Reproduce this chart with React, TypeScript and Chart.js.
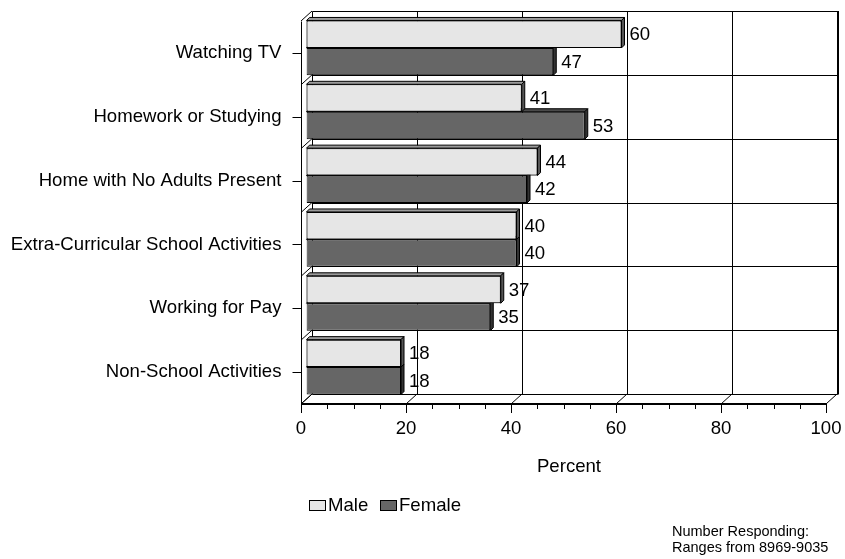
import React, { useEffect, useRef } from "react";
import { Chart, registerables } from "chart.js";

Chart.register(...registerables);

const categories = [
  "Watching TV",
  "Homework or Studying",
  "Home with No Adults Present",
  "Extra-Curricular School Activities",
  "Working for Pay",
  "Non-School Activities",
];
const maleValues = [60, 41, 44, 40, 37, 18];
const femaleValues = [47, 53, 42, 40, 35, 18];
const seriesNames = ["Male", "Female"];
const xTickValues = [0, 20, 40, 60, 80, 100];
const axisTitle = "Percent";
const footnoteLines = ["Number Responding:", "Ranges from 8969-9035"];

const FONT = "'Liberation Sans', Arial, Helvetica, sans-serif";
const FS = 18.6;
const DX = 5.5;
const DY = 5;
const BAR_DEPTH = 3;
const MALE_COLOR = "#e6e6e6";
const FEMALE_COLOR = "#666666";

const snap = (v: number) => Math.round(v) + 0.5;

function line(ctx: CanvasRenderingContext2D, x1: number, y1: number, x2: number, y2: number) {
  ctx.beginPath();
  ctx.moveTo(x1, y1);
  ctx.lineTo(x2, y2);
  ctx.stroke();
}

const framePlugin = {
  id: "frame3d",
  beforeDatasetsDraw(chart: any) {
    const { ctx, chartArea: a, scales } = chart;
    const xs = scales.x;
    const ys = scales.y;
    const X = (v: number) => xs.getPixelForValue(v);
    const top = a.top;
    const bot = a.bottom;
    const n = categories.length;
    const band = (bot - top) / n;
    const x0 = X(0);
    const x1 = X(100);
    ctx.save();
    ctx.lineWidth = 1;
    ctx.strokeStyle = "#000";
    xTickValues.forEach((v) => {
      const px = snap(X(v) + DX);
      line(ctx, px, snap(top - DY), px, snap(bot - DY));
    });
    for (let k = 0; k <= n; k++) {
      const py = snap(top + k * band - DY);
      line(ctx, snap(x0 + DX), py, snap(x1 + DX), py);
    }
    ctx.lineWidth = 2;
    line(ctx, Math.round(x1 + DX) + 1, snap(top - DY) - 0.5, Math.round(x1 + DX) + 1, snap(bot - DY));
    ctx.lineWidth = 1;
    line(ctx, snap(x0 - DX), snap(top + DY), snap(x0 - DX), snap(bot + DY));
    for (let k = 0; k <= n; k++) {
      const yk = top + k * band;
      line(ctx, x0 - DX, yk + DY, x0 + DX, yk - DY);
    }
    ctx.lineWidth = 2;
    line(ctx, snap(x0 - DX), Math.round(bot + DY), snap(x1 - DX), Math.round(bot + DY));
    ctx.lineWidth = 1;
    xTickValues.forEach((v) => {
      line(ctx, X(v) - DX, bot + DY, X(v) + DX, bot - DY);
    });
    for (let v = 0; v <= 100; v += 5) {
      const px = snap(X(v) - DX);
      const major = v % 20 === 0;
      line(ctx, px, Math.round(bot + DY), px, Math.round(bot + DY) + (major ? 9 : 5));
    }
    categories.forEach((_, i) => {
      const py = snap(ys.getPixelForValue(i) + DY);
      line(ctx, snap(x0 - DX) - 9, py, snap(x0 - DX), py);
    });
    ctx.restore();
  },
};

function barFaces(ctx: CanvasRenderingContext2D, b: any, topColor: string, sideColor: string) {
  const p = b.getProps(["x", "y", "base", "height"], true);
  const left = Math.min(p.base, p.x);
  const right = Math.max(p.base, p.x);
  const t = p.y - p.height / 2;
  const bt = p.y + p.height / 2;
  const d = BAR_DEPTH;
  ctx.save();
  ctx.lineWidth = 1;
  ctx.strokeStyle = "#000";
  ctx.beginPath();
  ctx.moveTo(left, t);
  ctx.lineTo(left + d, t - d);
  ctx.lineTo(right + d, t - d);
  ctx.lineTo(right, t);
  ctx.closePath();
  ctx.fillStyle = topColor;
  ctx.fill();
  ctx.stroke();
  ctx.beginPath();
  ctx.moveTo(right, t);
  ctx.lineTo(right + d, t - d);
  ctx.lineTo(right + d, bt - d);
  ctx.lineTo(right, bt);
  ctx.closePath();
  ctx.fillStyle = sideColor;
  ctx.fill();
  ctx.stroke();
  ctx.restore();
}

const barPlugin = {
  id: "bar3d",
  afterDatasetsDraw(chart: any) {
    const { ctx } = chart;
    const metaM = chart.getDatasetMeta(0);
    const metaF = chart.getDatasetMeta(1);
    metaF.data.forEach((b: any) => barFaces(ctx, b, "#4a4a4a", "#333333"));
    metaM.data.forEach((b: any) => {
      b.draw(ctx);
      barFaces(ctx, b, "#9a9a9a", "#555555");
    });
    ctx.save();
    ctx.font = `${FS}px ${FONT}`;
    ctx.fillStyle = "#000";
    ctx.textAlign = "left";
    ctx.textBaseline = "middle";
    [metaM, metaF].forEach((meta: any, di: number) => {
      const vals = di === 0 ? maleValues : femaleValues;
      meta.data.forEach((b: any, i: number) => {
        const p = b.getProps(["x", "y"], true);
        ctx.fillText(String(vals[i]), p.x + BAR_DEPTH + 5, p.y + 1);
      });
    });
    ctx.restore();
  },
};

const extrasPlugin = {
  id: "extras",
  afterDraw(chart: any) {
    const { ctx } = chart;
    ctx.save();
    ctx.font = `${FS}px ${FONT}`;
    ctx.textBaseline = "middle";
    ctx.textAlign = "left";
    const boxW = 16;
    const boxH = 10;
    const gapBoxText = 3;
    const gapItems = 12;
    const femaleBoxX = 380;
    const maleTextW = ctx.measureText(seriesNames[0]).width;
    const maleBoxX = femaleBoxX - gapItems - maleTextW - gapBoxText - boxW;
    const ly = 505;
    const items = [
      { x: maleBoxX, color: MALE_COLOR, name: seriesNames[0] },
      { x: femaleBoxX, color: FEMALE_COLOR, name: seriesNames[1] },
    ];
    items.forEach((it) => {
      ctx.fillStyle = it.color;
      ctx.fillRect(Math.round(it.x) + 0.5, ly - boxH / 2 + 0.5, boxW, boxH);
      ctx.strokeStyle = "#000";
      ctx.lineWidth = 1;
      ctx.strokeRect(Math.round(it.x) + 0.5, ly - boxH / 2 + 0.5, boxW, boxH);
      ctx.fillStyle = "#000";
      ctx.fillText(it.name, Math.round(it.x) + boxW + gapBoxText, ly + 1);
    });
    ctx.font = `14.5px ${FONT}`;
    ctx.fillText(footnoteLines[0], 672, 532);
    ctx.fillText(footnoteLines[1], 672, 548);
    ctx.restore();
  },
};

export default function App() {
  const ref = useRef<HTMLCanvasElement | null>(null);
  useEffect(() => {
    if (!ref.current) return;
    Chart.defaults.font.family = FONT;
    const chart = new Chart(ref.current, {
      type: "bar",
      data: {
        labels: categories,
        datasets: [
          {
            label: seriesNames[0],
            data: maleValues,
            backgroundColor: MALE_COLOR,
            borderColor: "#000",
            borderWidth: 1,
            borderSkipped: false,
            categoryPercentage: 0.86,
            barPercentage: 1,
          },
          {
            label: seriesNames[1],
            data: femaleValues,
            backgroundColor: FEMALE_COLOR,
            borderColor: "#000",
            borderWidth: 1,
            borderSkipped: false,
            categoryPercentage: 0.86,
            barPercentage: 1,
          },
        ],
      },
      options: {
        indexAxis: "y",
        responsive: false,
        animation: false,
        devicePixelRatio: 1,
        layout: { padding: { top: 16, right: 13.5, left: 0, bottom: 0 } },
        plugins: { legend: { display: false }, tooltip: { enabled: false } },
        scales: {
          x: {
            type: "linear",
            min: 0,
            max: 100,
            afterFit: (s: any) => {
              s.height = 160;
              s.paddingLeft = 0;
              s.paddingRight = 0;
            },
            ticks: {
              stepSize: 20,
              color: "#000",
              font: { size: FS, family: FONT },
              padding: 11,
              labelOffset: -DX,
              maxRotation: 0,
            },
            grid: { display: false },
            border: { display: false },
            title: {
              display: true,
              text: axisTitle,
              color: "#000",
              font: { size: FS, family: FONT },
              padding: { top: 0, bottom: 81 },
            },
          },
          y: {
            type: "category",
            afterFit: (s: any) => {
              s.width = 306.5;
              s.paddingTop = 0;
              s.paddingBottom = 0;
            },
            ticks: {
              color: "#000",
              font: { size: FS, family: FONT },
              padding: 17,
              labelOffset: DY,
              autoSkip: false,
            },
            grid: { display: false },
            border: { display: false },
          },
        },
      },
      plugins: [framePlugin, barPlugin, extrasPlugin],
    } as any);
    return () => chart.destroy();
  }, []);
  return (
    <div style={{ position: "absolute", left: 0, top: 0, width: 845, height: 559, background: "#fff" }}>
      <canvas ref={ref} width={845} height={559} style={{ display: "block" }} />
    </div>
  );
}
